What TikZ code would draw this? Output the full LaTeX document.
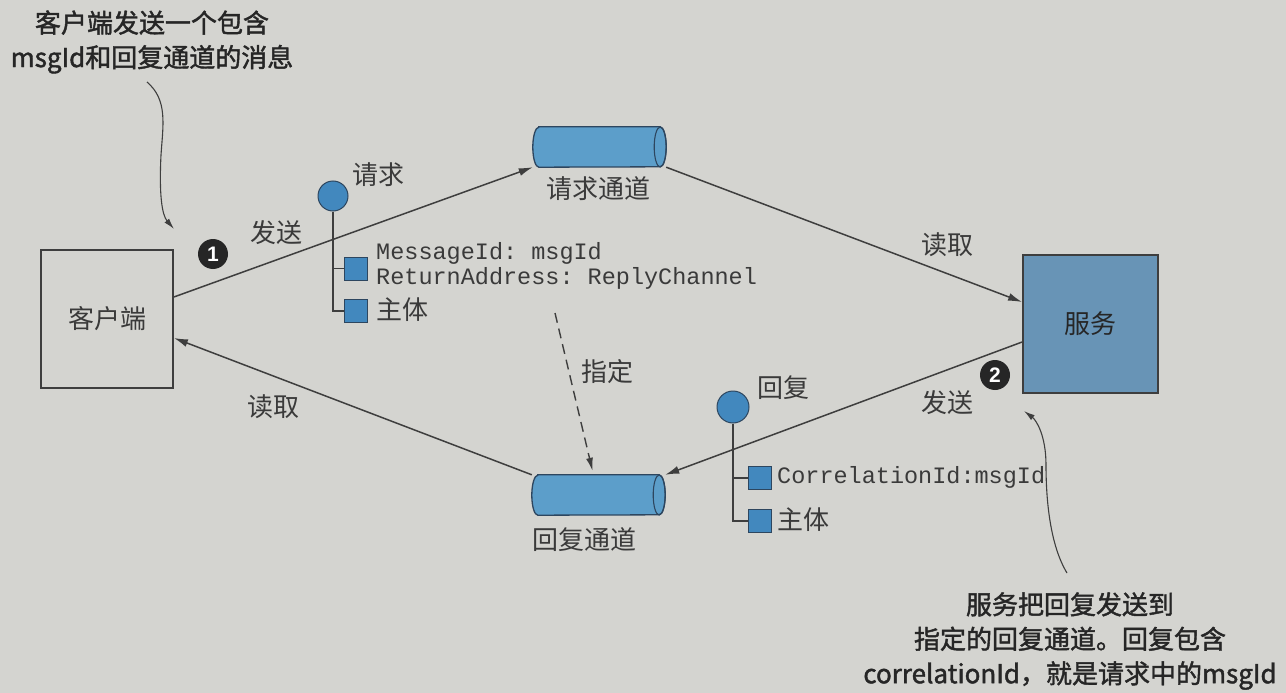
\documentclass[tikz,border=0pt]{standalone}
\usepackage{fontspec}
\setmainfont{Liberation Sans}
\setmonofont{Liberation Mono}
\newfontfamily\cjk{Noto Sans CJK SC}
\newfontfamily\cjknote[FakeBold=1.6]{Noto Sans CJK SC}
\usetikzlibrary{arrows.meta,calc}
\definecolor{bg}{RGB}{212,212,208}
\definecolor{ink}{RGB}{58,58,58}
\definecolor{lineink}{RGB}{62,62,62}
\definecolor{msgblue}{RGB}{66,136,190}
\definecolor{chanblue}{RGB}{92,158,202}
\definecolor{servblue}{RGB}{104,148,182}
\definecolor{edgeblue}{RGB}{45,70,95}
\definecolor{badgeink}{RGB}{38,38,38}
\tikzset{
  lbl/.style={font=\cjk\fontsize{26}{30}\selectfont, text=ink, inner sep=0pt},
  note/.style={font=\cjknote\fontsize{26}{34.5}\selectfont, text=badgeink, inner sep=0pt, align=center},
  mono/.style={font=\ttfamily\fontsize{23.5}{25}\selectfont, text=ink, inner sep=0pt, align=left},
  box/.style={draw=lineink, line width=1.8pt, inner sep=0pt, font=\cjk\fontsize{26}{30}\selectfont, text=ink},
  chan/.style={minimum width=133pt, minimum height=40pt, inner sep=0pt},
  dot/.style={circle, fill=msgblue, draw=edgeblue, line width=1pt, inner sep=0pt},
  sq/.style={rectangle, fill=msgblue, draw=edgeblue, line width=1pt, inner sep=0pt, minimum size=23pt},
  tree/.style={draw=lineink, line width=1.3pt},
  badge/.style={circle, fill=badgeink, text=white, inner sep=0pt, minimum size=30pt, font=\bfseries\fontsize{21}{21}\selectfont},
  flow/.style={draw=lineink, line width=1.5pt, -{Latex[length=14pt,width=8pt]}},
  dashflow/.style={draw=lineink, line width=1.4pt, dash pattern=on 10pt off 6pt, -{Latex[length=13pt,width=7pt]}},
  annot/.style={draw=lineink, line width=1.1pt, -{Latex[length=11pt,width=6pt]}},
}
\newcommand\drawchan[1]{%
  \path[draw=edgeblue, fill=chanblue, line width=1.3pt]
    ($(#1.north west)+(6,0)$) -- ($(#1.north east)+(-6,0)$)
    arc[start angle=-90, end angle=90, x radius=6, y radius=20]
    -- ($(#1.south west)+(6,0)$)
    arc[start angle=90, end angle=270, x radius=6, y radius=20] -- cycle;
  \draw[edgeblue, line width=1.1pt] ($(#1.east)+(-6,0)$) ellipse[x radius=6, y radius=20];
}
\begin{document}
\begin{tikzpicture}[x=1pt, y=-1pt]
\path[use as bounding box, fill=bg] (0,0) rectangle (1286,693);

% main nodes
\node[box, fill=bg, minimum width=132pt, minimum height=138pt] (client) at (107,319) {客户端};
\node[box, fill=servblue, minimum width=135pt, minimum height=138pt, text=badgeink] (service) at (1090.5,324) {服务};

\node[chan] (reqch) at (599.5,147) {};
\drawchan{reqch}
\node[lbl] (reqchlbl) at (598,189) {请求通道};

\node[chan] (replych) at (598.5,495) {};
\drawchan{replych}
\node[lbl] (replychlbl) at (584,540) {回复通道};

% flows
\draw[flow] ($(client.east)+(0,-22)$) -- (reqch.south west);
\draw[flow] (reqch.south east) -- ($(service.west)+(0,-22)$);
\draw[flow] ($(service.west)+(0,18)$) -- (replych.north east);
\draw[flow] (replych.north west) -- ($(client.east)+(0,19)$);

\coordinate (dstart) at (555,313);
\draw[dashflow] (dstart) -- ($(replych.north)+(-6,-4)$);

% flow labels
\node[lbl] (send1) at (276,233) {发送};
\node[lbl] (read1) at (947,245) {读取};
\node[lbl] (read2) at (273,407) {读取};
\node[lbl] (send2) at (947,403) {发送};
\node[lbl] (assign) at (607,372) {指定};

\node[badge] (b1) at (213,254) {1};
\node[badge] (b2) at (995,375) {2};

% request message
\node[dot, minimum size=30pt] (reqdot) at (333,196) {};
\node[lbl] (reqlbl) at (378,175) {请求};
\node[sq] (reqsq1) at (355.5,268.5) {};
\node[sq] (reqsq2) at (355.5,311) {};
\draw[tree] (reqdot.south) |- (reqsq2.west);
\draw[tree] (reqdot.south |- reqsq1.west) -- (reqsq1.west);
\node[mono, anchor=west] (reqhdr) at (376,265.5) {MessageId: msgId\\ReturnAddress: ReplyChannel};
\node[lbl, anchor=west] (reqbody) at (376,310) {主体};

% reply message
\node[dot, minimum size=32pt] (repdot) at (733,407) {};
\node[lbl] (replbl) at (783,388) {回复};
\node[sq] (repsq1) at (759.5,478) {};
\node[sq] (repsq2) at (759.5,521) {};
\draw[tree] (repdot.south) |- (repsq2.west);
\draw[tree] (repdot.south |- repsq1.west) -- (repsq1.west);
\node[mono, anchor=west] (rephdr) at (777,477) {CorrelationId:msgId};
\node[lbl, anchor=west] (repbody) at (777,520) {主体};

% annotations
\node[note] (note1) at (152,42) {客户端发送一个包含\\msgId和回复通道的消息};
\coordinate (n1tail) at (147,82);
\coordinate (n1tip) at (174,229);
\draw[annot] (n1tail) .. controls (168,100) and (163,125) .. (161,155) .. controls (159,195) and (162,215) .. (n1tip);

\node[note] (note2) at (1070,641) {服务把回复发送到\\指定的回复通道。回复包含\\correlationId，就是请求中的msgId};
\coordinate (n2tail) at (1067,573);
\coordinate (n2tip) at (1024,411);
\draw[annot] (n2tail) .. controls (1050,545) and (1046,500) .. (1046,465) .. controls (1046,435) and (1036,420) .. (n2tip);
\end{tikzpicture}
\end{document}
